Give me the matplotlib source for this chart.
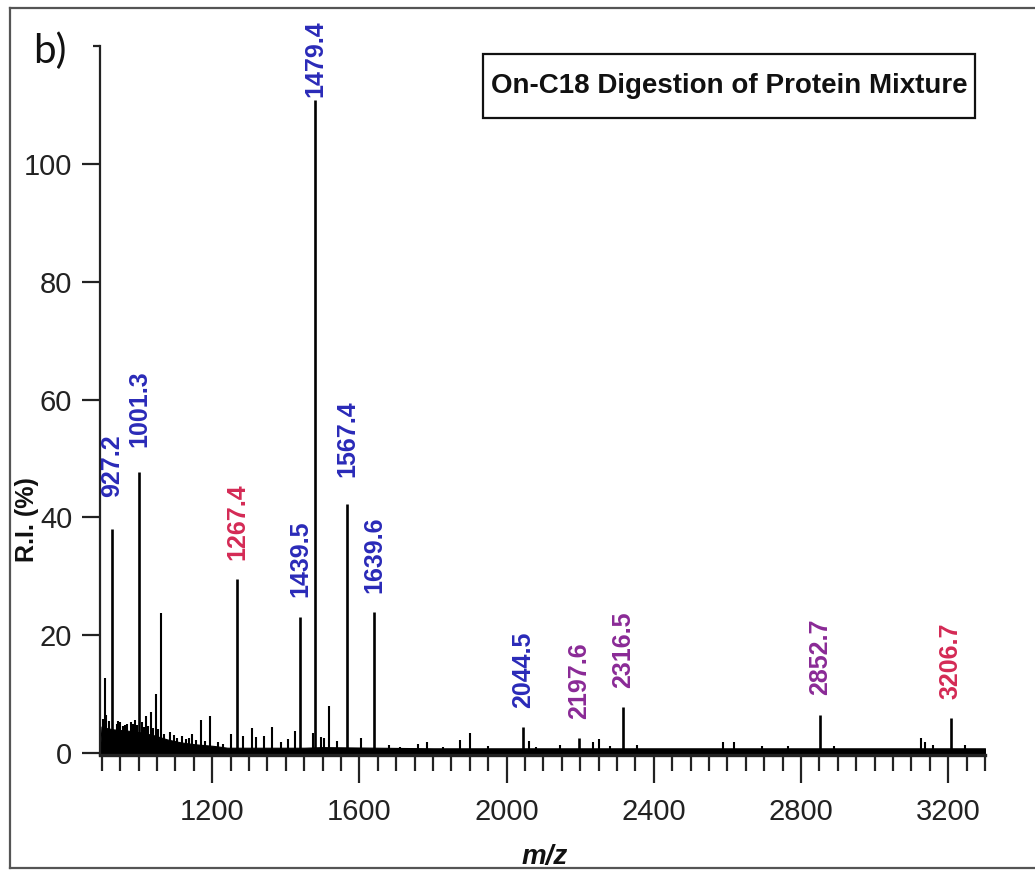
import matplotlib
matplotlib.use("Agg")
import matplotlib.pyplot as plt
from matplotlib import font_manager as fm
from matplotlib.ticker import FixedLocator, MultipleLocator
from matplotlib.lines import Line2D
from matplotlib.patches import Rectangle

# ---- spectrum data -------------------------------------------------------
# annotated peaks (m/z, relative intensity %, label colour group)
labeled_mz = [927.2, 1001.3, 1267.4, 1439.5, 1479.4, 1567.4, 1639.6,
              2044.5, 2197.6, 2316.5, 2852.7, 3206.7]
labeled_ri = [38.0, 47.7, 29.5, 23.1, 110.9, 42.3, 23.9,
              4.4, 2.5, 7.8, 6.5, 5.9]
labeled_group = ["blue", "blue", "red", "blue", "blue", "blue", "blue",
                 "blue", "purple", "purple", "purple", "red"]

# unlabelled minor peaks
minor_mz = [903, 909, 912, 920, 940, 945, 950, 957, 963, 968, 979, 985,
            990, 996, 1010, 1015, 1020, 1026, 1033, 1038, 1047, 1052,
            1060, 1070, 1086, 1095, 1105, 1119, 1130, 1137, 1144, 1155,
            1169, 1180, 1195, 1215, 1230, 1251, 1284, 1307, 1318, 1340,
            1362, 1387, 1405, 1426, 1474, 1495, 1503, 1518, 1539, 1605,
            1680, 1710, 1759, 1783, 1827, 1872, 1901, 1949, 2060, 2080,
            2144, 2235, 2250, 2280, 2355, 2587, 2618, 2693, 2766, 2890,
            3125, 3137, 3158, 3246]
minor_ri = [5.8, 12.7, 6.5, 5.5, 5.0, 5.4, 5.3, 4.6, 4.7, 4.9, 5.3, 5.0,
            5.6, 4.8, 5.2, 4.5, 6.3, 4.6, 7.0, 4.2, 10.0, 4.0,
            23.8, 3.2, 3.6, 3.0, 2.6, 2.9, 2.4, 2.6, 3.2, 2.2,
            5.6, 2.0, 6.3, 1.8, 1.6, 3.2, 2.9, 4.2, 2.7, 2.9,
            4.5, 1.9, 2.3, 3.7, 3.4, 2.7, 2.6, 7.9, 2.0, 2.6,
            1.3, 1.0, 1.6, 1.8, 1.0, 2.2, 3.4, 1.2, 2.0, 1.1,
            1.4, 1.9, 2.4, 1.2, 1.3, 1.9, 1.8, 1.2, 1.2, 1.2,
            2.5, 1.8, 1.4, 1.4]

# chemical-noise envelope of the baseline
noise_mz = [895, 899, 915, 933, 950, 970, 1006, 1042, 1078, 1115, 1151,
            1205, 1241, 1300, 1368, 1450, 1500, 1650, 1800, 2000, 2400,
            2800, 3300]
noise_ri = [0.5, 4.5, 4.2, 4.0, 3.9, 3.8, 3.5, 3.0, 2.3, 1.8, 1.5,
            1.2, 0.9, 0.9, 0.9, 0.9, 1.0, 0.9, 0.8, 0.8, 0.8,
            0.8, 0.8]

y_ticks = [0, 20, 40, 60, 80, 100]

# ---- styling -------------------------------------------------------------
names = {f.name for f in fm.fontManager.ttflist}
NARROW = "Liberation Sans Narrow" if "Liberation Sans Narrow" in names else "Liberation Sans"
WIDE = "Liberation Sans"
TICK_SIZE = 23 if NARROW.endswith("Narrow") else 21
TITLE_SIZE = 24 if NARROW.endswith("Narrow") else 20

colors = {"blue": "#2a2ab8", "red": "#d42a55", "purple": "#8a2a96"}
# vertical gap (points) between a peak top and its label
label_gap = {927.2: 23, 1001.3: 18, 1479.4: 2, 1567.4: 19}
default_gap = 14

W, H = 1035, 871
fig = plt.figure(figsize=(W / 100, H / 100), dpi=100)
fig.patch.set_facecolor("white")

ax_left, ax_right, ax_top, ax_bottom = 100, 985, 46, 754.8
ax = fig.add_axes([ax_left / W, 1 - ax_bottom / H,
                   (ax_right - ax_left) / W, (ax_bottom - ax_top) / H])

# baseline noise and sticks
ax.fill_between(noise_mz, 0, noise_ri, color="black", lw=0.8, edgecolor="black")
ax.vlines(minor_mz, 0, minor_ri, color="black", lw=1.5)
ax.vlines(labeled_mz, 0, labeled_ri, color="black", lw=1.9)

for mz, ri, grp in zip(labeled_mz, labeled_ri, labeled_group):
    ax.annotate(f"{mz:.1f}", xy=(mz, ri),
                xytext=(0, label_gap.get(mz, default_gap)),
                textcoords="offset points", rotation=90,
                ha="center", va="bottom", color=colors[grp],
                fontsize=18, fontweight="bold", family=WIDE)

ax.set_xlim(895, 3300)
ax.set_ylim(-0.3, 120)

for side in ("top", "right"):
    ax.spines[side].set_visible(False)
ax.spines["left"].set_linewidth(1.6)
ax.spines["bottom"].set_linewidth(2.4)
ax.spines["left"].set_color("#222222")
ax.spines["bottom"].set_color("#222222")

ax.yaxis.set_major_locator(FixedLocator(y_ticks))
ax.yaxis.set_minor_locator(FixedLocator([120]))
ax.xaxis.set_major_locator(MultipleLocator(400))
ax.xaxis.set_minor_locator(MultipleLocator(50))

ax.tick_params(axis="y", which="major", direction="out", length=13,
               width=1.6, pad=7, labelsize=TICK_SIZE, colors="#222222")
ax.tick_params(axis="y", which="minor", direction="out", length=5, width=1.6,
               colors="#222222")
ax.tick_params(axis="x", which="major", direction="out", length=20,
               width=1.6, pad=11, labelsize=TICK_SIZE, colors="#222222")
ax.tick_params(axis="x", which="minor", direction="out", length=11.5,
               width=1.6, colors="#222222")
for lab in ax.get_xticklabels() + ax.get_yticklabels():
    lab.set_family(NARROW)

# axis titles
fig.text(27 / W, 1 - 520 / H, "R.I. (%)", rotation=90, ha="center",
         va="center", fontsize=18, fontweight="bold", family=WIDE,
         color="#111111")
fig.text(545 / W, 1 - 857 / H, "m/z", ha="center", va="center",
         fontsize=20, fontweight="bold", fontstyle="italic", family=WIDE,
         color="#111111")

# panel letter
fig.text(33 / W, 1 - 51 / H, "b)", ha="left", va="center", fontsize=29,
         family="Lato", color="#111111")

# boxed title
bx0, by0, bx1, by1 = 483, 54, 975, 118
fig.patches.append(Rectangle((bx0 / W, 1 - by1 / H), (bx1 - bx0) / W,
                             (by1 - by0) / H, transform=fig.transFigure,
                             fill=False, edgecolor="#111111", lw=1.6))
fig.text((bx0 + bx1) / 2 / W, 1 - (by0 + by1) / 2 / H,
         "On-C18 Digestion of Protein Mixture", ha="center", va="center",
         fontsize=TITLE_SIZE, fontweight="bold", family=NARROW,
         color="#111111")

# outer frame
frame_kw = dict(transform=fig.transFigure, color="#555555", lw=1.6)
fig.lines.append(Line2D([10 / W, 10 / W], [1 - 8 / H, 1 - 868 / H], **frame_kw))
fig.lines.append(Line2D([10 / W, 1.0], [1 - 8 / H, 1 - 8 / H], **frame_kw))
fig.lines.append(Line2D([10 / W, 1.0], [1 - 868 / H, 1 - 868 / H], **frame_kw))

fig.savefig("out.png", dpi=100, facecolor="white")
